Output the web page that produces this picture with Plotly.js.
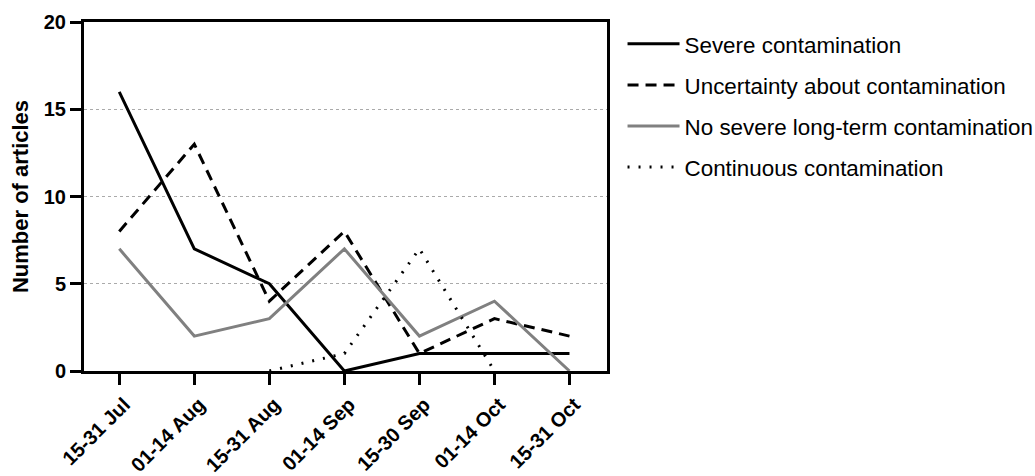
<!DOCTYPE html>
<html>
<head>
<meta charset="utf-8">
<script src="https://cdn.plot.ly/plotly-3.0.1.min.js"></script>
<style>body{margin:0;background:#fff}#chart{width:1035px;height:476px}</style>
</head>
<body>
<div id="chart"></div>
<script>
var categories = ["15-31 Jul","01-14 Aug","15-31 Aug","01-14 Sep","15-30 Sep","01-14 Oct","15-31 Oct"];
var severe = [16, 7, 5, 0, 1, 1, 1];
var uncertainty = [8, 13, 4, 8, 1, 3, 2];
var noSevere = [7, 2, 3, 7, 2, 4, 0];
var continuous = [null, null, 0, 1, 7, 0, null];
var seriesNames = ["Severe contamination","Uncertainty about contamination","No severe long-term contamination","Continuous contamination"];

var FONT = "Liberation Sans, Arial, sans-serif";
var traces = [
  {x: categories, y: severe, name: seriesNames[0], mode: "lines", line: {color: "#000", width: 3}, legendgroup: "a"},
  {x: categories, y: uncertainty, name: seriesNames[1], mode: "lines", line: {color: "#000", width: 3, dash: "11px,7px"}, legendgroup: "b"},
  {x: categories, y: noSevere, name: seriesNames[2], mode: "lines", line: {color: "#808080", width: 3}, legendgroup: "c"},
  {x: categories, y: continuous, name: seriesNames[3], mode: "lines", line: {color: "#000", width: 3, dash: "2px,9px"}, legendgroup: "d", connectgaps: false}
];

var layout = {
  width: 1035, height: 476,
  margin: {l: 84, r: 428, t: 22, b: 105, autoexpand: false},
  paper_bgcolor: "#fff", plot_bgcolor: "#fff",
  font: {family: FONT, color: "#000"},
  showlegend: true,
  legend: {x: 1.0297, xanchor: "left", y: 0.998, yanchor: "top", font: {size: 22.4, color: "#000", family: FONT}, traceorder: "grouped", tracegroupgap: 9, itemwidth: 52, bgcolor: "rgba(0,0,0,0)"},
  xaxis: {
    type: "category", range: [-0.47, 6.5], showline: true, linecolor: "#000", linewidth: 3, mirror: true,
    ticks: "outside", ticklen: 11, tickwidth: 3, tickcolor: "#000", tickangle: -45,
    ticklabelshift: 5,
    tickfont: {size: 20, color: "#000", family: FONT, weight: "bold"},
    showgrid: false, zeroline: false
  },
  yaxis: {
    range: [0, 20], tickvals: [0,5,10,15,20], showline: true, linecolor: "#000", linewidth: 3, mirror: true,
    ticks: "outside", ticklen: 11, tickwidth: 3, tickcolor: "#000",
    tickfont: {size: 20, color: "#000", family: FONT, weight: "bold"},
    showgrid: true, gridcolor: "#aaa", griddash: "dot", gridwidth: 1, zeroline: false,
    title: {text: "Number of articles", font: {size: 22, color: "#000", family: FONT, weight: "bold"}, standoff: 10}
  }
};

Plotly.newPlot("chart", traces, layout, {displayModeBar: false, staticPlot: true});
</script>
</body>
</html>
